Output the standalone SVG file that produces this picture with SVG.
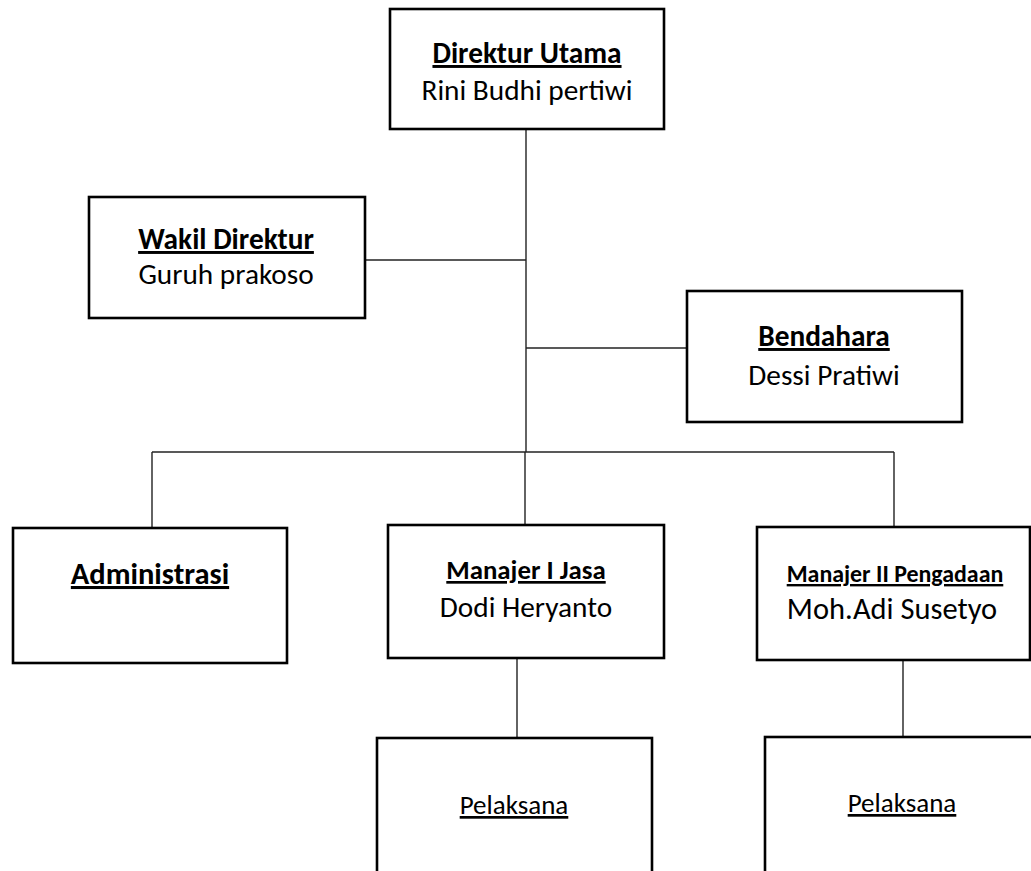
<svg xmlns="http://www.w3.org/2000/svg" width="1031" height="871" viewBox="0 0 1031 871">
<style>
.box{fill:#fff;stroke:#000;stroke-width:2.6}
.ln{stroke:#222;stroke-width:1.4;fill:none}
text{font-family:Carlito,Calibri,Lato,"Noto Sans",sans-serif;fill:#000;text-anchor:middle}
.t{font-weight:bold;font-size:29.3px;text-decoration:underline}
.n{font-size:29.3px}
</style>
<rect width="1031" height="871" fill="#fff"/>
<g id="connectors">
<line class="ln" x1="526" y1="129" x2="526" y2="452"/>
<line class="ln" x1="365" y1="260" x2="526" y2="260"/>
<line class="ln" x1="526" y1="348" x2="687" y2="348"/>
<line class="ln" x1="152" y1="452" x2="894" y2="452"/>
<line class="ln" x1="152" y1="452" x2="152" y2="528"/>
<line class="ln" x1="525" y1="452" x2="525" y2="525"/>
<line class="ln" x1="894" y1="452" x2="894" y2="527"/>
<line class="ln" x1="517" y1="658" x2="517" y2="738"/>
<line class="ln" x1="903" y1="660" x2="903" y2="737"/>
</g>
<g id="direktur">
<rect class="box" x="390" y="9" width="274" height="120"/>
<text class="t" x="527" y="63">Direktur Utama</text>
<text class="n" x="527" y="100">Rini Budhi pertiwi</text>
</g>
<g id="wakil">
<rect class="box" x="89" y="197" width="276" height="121"/>
<text class="t" x="226" y="249">Wakil Direktur</text>
<text class="n" x="226" y="284">Guruh prakoso</text>
</g>
<g id="bendahara">
<rect class="box" x="687" y="291" width="275" height="131"/>
<text class="t" x="824" y="346">Bendahara</text>
<text class="n" x="824" y="385">Dessi Pratiwi</text>
</g>
<g id="administrasi">
<rect class="box" x="13" y="528" width="274" height="135"/>
<text class="t" x="150" y="584" style="font-size:30.5px">Administrasi</text>
</g>
<g id="manajer1">
<rect class="box" x="388" y="525" width="276" height="133"/>
<text class="t" x="526" y="579" style="font-size:26.8px">Manajer I Jasa</text>
<text class="n" x="526" y="617">Dodi Heryanto</text>
</g>
<g id="manajer2">
<rect class="box" x="757" y="527" width="273" height="133"/>
<text class="t" x="895" y="582" style="font-size:23.9px">Manajer II Pengadaan</text>
<text class="n" x="892" y="619" style="font-size:30.5px">Moh.Adi Susetyo</text>
</g>
<g id="pelaksana1">
<rect class="box" x="377" y="738" width="275" height="145"/>
<text class="n" x="514" y="814" style="font-size:27px;text-decoration:underline">Pelaksana</text>
</g>
<g id="pelaksana2">
<rect class="box" x="765" y="737" width="280" height="145"/>
<text class="n" x="902" y="812" style="font-size:27px;text-decoration:underline">Pelaksana</text>
</g>
</svg>
